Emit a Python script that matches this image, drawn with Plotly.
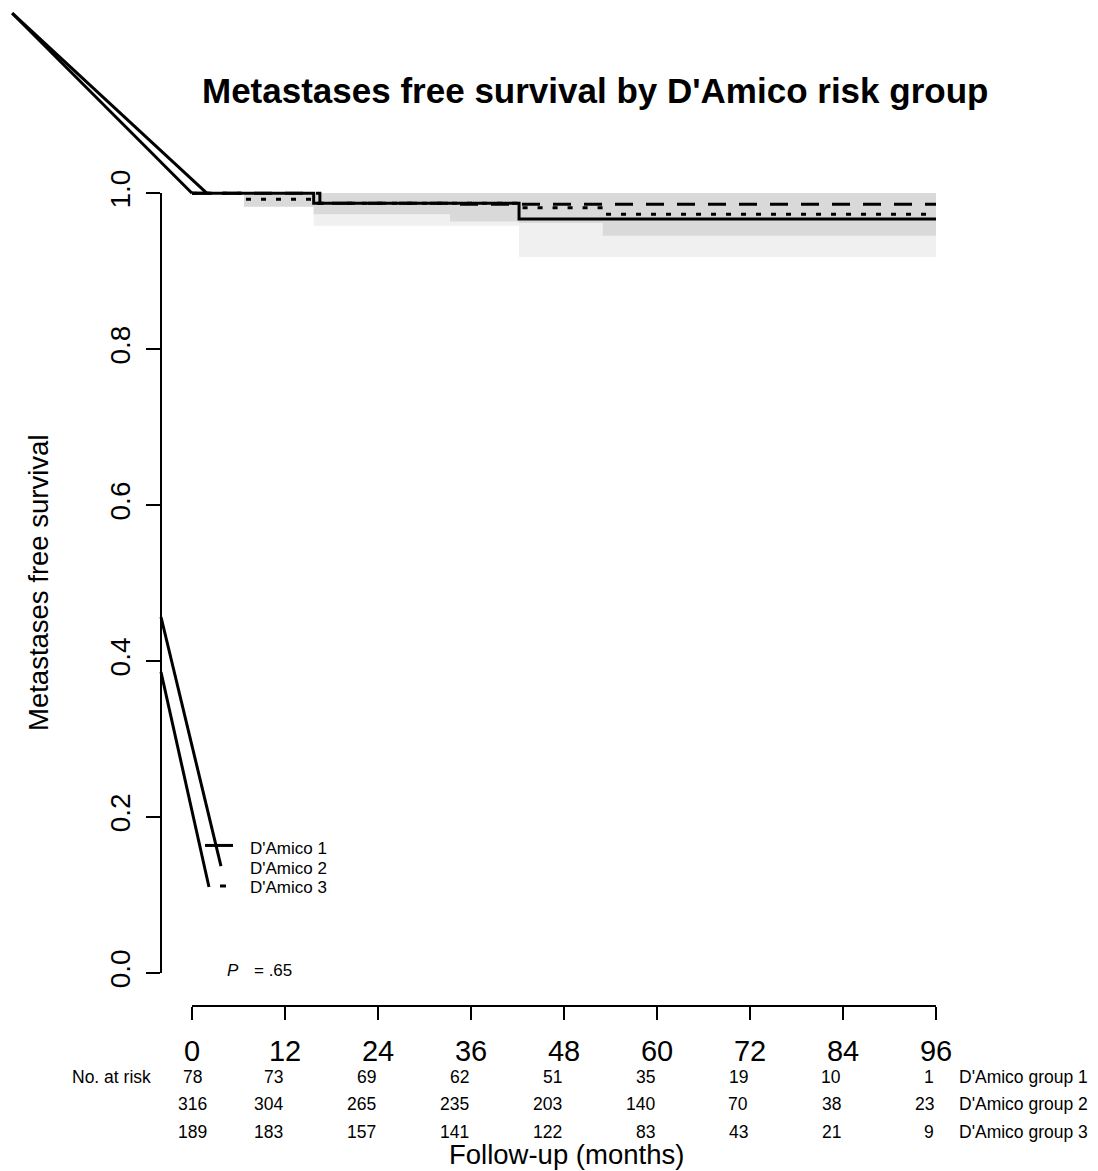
import plotly.graph_objects as go

# ---------------- data ----------------
month_ticks = [0, 12, 24, 36, 48, 60, 72, 84, 96]
surv_ticks = [0.0, 0.2, 0.4, 0.6, 0.8, 1.0]
surv_tick_text = ["0.0", "0.2", "0.4", "0.6", "0.8", "1.0"]
end_month = 96

# Kaplan-Meier step estimates (event times, survival after each time)
g1_times = [0, 15.7, 42.2]
g1_surv = [1.0, 0.9872, 0.9670]
g1_lower = [1.0, 0.9584, 0.9183]

g2_times = [0, 16.5, 33.3]
g2_surv = [1.0, 0.9872, 0.9859]
g2_lower = [1.0, 0.9750, 0.9639]

g3_times = [0, 6.7, 15.7, 42.2, 53.0]
g3_surv = [1.0, 0.9923, 0.9872, 0.9815, 0.9731]
g3_lower = [1.0, 0.9828, 0.9731, 0.9620, 0.9456]

# numbers at risk
risk_g1 = [78, 73, 69, 62, 51, 35, 19, 10, 1]
risk_g2 = [316, 304, 265, 235, 203, 140, 70, 38, 23]
risk_g3 = [189, 183, 157, 141, 122, 83, 43, 21, 9]
risk_group_names = ["D'Amico group 1", "D'Amico group 2", "D'Amico group 3"]
legend_names = ["D'Amico 1", "D'Amico 2", "D'Amico 3"]
p_text = "= .65"

# stray line segments in the original figure (months, survival)
stray_x = [[-23.2, 0.0], [-23.2, 1.94], [-4.0, 3.74], [-4.0, 2.19]]
stray_y = [[1.231, 1.0], [1.231, 1.0], [0.4566, 0.1372], [0.3860, 0.1103]]
legend_seg_x = [[1.68, 5.29], None, [3.61, 4.39]]
legend_seg_y = [0.1636, 0.1372, 0.1116]

# ---------------- layout constants ----------------
W, H = 1098, 1171
X0PX, X96PX = 192.0, 936.0
Y0PX, Y1PX = 973.0, 193.3
PPM = (X96PX - X0PX) / 96.0
PPU = (Y0PX - Y1PX) / 1.0
FONT = "Liberation Sans, Arial, Helvetica, sans-serif"


def fx(px):
    return px / W


def fy(py):
    return 1 - py / H


def month_at(px):
    return (px - X0PX) / PPM


def surv_at(py):
    return (Y0PX - py) / PPU


def step_xy(times, vals, end):
    t = list(times) + [end]
    xs, ys = [], []
    for i, v in enumerate(vals):
        xs += [t[i], t[i + 1]]
        ys += [v, v]
    return xs, ys


fig = go.Figure()

# dummy trace so the visible axes exist
fig.add_trace(go.Scatter(x=[0, 96], y=[0, 1], mode="markers",
                         marker=dict(opacity=0), hoverinfo="skip",
                         showlegend=False, xaxis="x", yaxis="y"))

# confidence bands
for times, lower, col in [(g1_times, g1_lower, "#f0f0f0"),
                          (g2_times, g2_lower, "#d9d9d9"),
                          (g3_times, g3_lower, "#d9d9d9")]:
    xu, yu = step_xy(times, [1.0] * len(times), end_month)
    xl, yl = step_xy(times, lower, end_month)
    fig.add_trace(go.Scatter(x=xu + xl[::-1], y=yu + yl[::-1], fill="toself",
                             fillcolor=col, line=dict(width=0), mode="lines",
                             hoverinfo="skip", showlegend=False,
                             xaxis="x2", yaxis="y2"))

# survival curves
for times, surv, dash in [(g1_times, g1_surv, "solid"),
                          (g2_times, g2_surv, "18px,13px"),
                          (g3_times, g3_surv, "5px,10px")]:
    fig.add_trace(go.Scatter(x=list(times) + [end_month],
                             y=list(surv) + [surv[-1]],
                             mode="lines", line=dict(color="black", width=3,
                                                     dash=dash, shape="hv"),
                             hoverinfo="skip", showlegend=False,
                             xaxis="x2", yaxis="y2"))

# stray segments
for sx, sy in zip(stray_x, stray_y):
    fig.add_trace(go.Scatter(x=sx, y=sy, mode="lines",
                             line=dict(color="black", width=3),
                             hoverinfo="skip", showlegend=False,
                             xaxis="x2", yaxis="y2"))
for sx, sy in zip(legend_seg_x, legend_seg_y):
    if sx is None:
        continue
    fig.add_trace(go.Scatter(x=sx, y=[sy, sy], mode="lines",
                             line=dict(color="black", width=3),
                             hoverinfo="skip", showlegend=False,
                             xaxis="x2", yaxis="y2"))

ann = []
# legend text
for name, py in zip(legend_names, [848, 868, 887]):
    ann.append(dict(x=month_at(248), y=surv_at(py), xref="x2", yref="y2",
                    text=name, showarrow=False, xanchor="left", yanchor="middle",
                    font=dict(size=17, family=FONT, color="black")))
# p-value
ann.append(dict(x=month_at(225), y=surv_at(970), xref="x2", yref="y2",
                text="<i>P</i>", showarrow=False, xanchor="left", yanchor="middle",
                font=dict(size=17, family=FONT, color="black")))
ann.append(dict(x=month_at(252), y=surv_at(970), xref="x2", yref="y2",
                text=p_text, showarrow=False, xanchor="left", yanchor="middle",
                font=dict(size=17, family=FONT, color="black")))

# risk table
row_py = [1077, 1104, 1132]
ann.append(dict(x=month_at(153), y=surv_at(row_py[0]), xref="x2", yref="y2",
                text="No. at risk", showarrow=False, xanchor="right",
                yanchor="middle", font=dict(size=17.5, family=FONT, color="black")))
for row, (vals, gname) in enumerate(zip([risk_g1, risk_g2, risk_g3], risk_group_names)):
    for t, v in zip(month_ticks, vals):
        ann.append(dict(x=t, y=surv_at(row_py[row]), xref="x2", yref="y2",
                        text=str(v), showarrow=False,
                        xanchor="center" if t == 0 else "right",
                        yanchor="middle",
                        font=dict(size=17.5, family=FONT, color="black")))
    ann.append(dict(x=month_at(957), y=surv_at(row_py[row]), xref="x2", yref="y2",
                    text=gname, showarrow=False, xanchor="left", yanchor="middle",
                    font=dict(size=17.5, family=FONT, color="black")))

# titles
ann.append(dict(x=fx(595), y=fy(91), xref="paper", yref="paper",
                text="<b>Metastases free survival by D'Amico risk group</b>",
                showarrow=False, xanchor="center", yanchor="middle",
                font=dict(size=35, family=FONT, color="black")))
ann.append(dict(x=fx(38), y=fy(583), xref="paper", yref="paper",
                text="Metastases free survival", textangle=-90,
                showarrow=False, xanchor="center", yanchor="middle",
                font=dict(size=27.5, family=FONT, color="black")))
ann.append(dict(x=fx(566), y=fy(1154), xref="paper", yref="paper",
                text="Follow-up (months)",
                showarrow=False, xanchor="center", yanchor="middle",
                font=dict(size=27.5, family=FONT, color="black")))

fig.update_layout(
    width=W, height=H, autosize=False,
    margin=dict(l=0, r=0, t=0, b=0, pad=0, autoexpand=False),
    paper_bgcolor="white", plot_bgcolor="rgba(0,0,0,0)",
    showlegend=False,
    xaxis=dict(domain=[fx(X0PX), fx(X96PX)], range=[0, 96], anchor="free",
               position=fy(1006), showline=True, linewidth=2, linecolor="black",
               ticks="outside", ticklen=13, tickwidth=2, tickcolor="black",
               tickmode="array", tickvals=month_ticks, ticklabelstandoff=6,
               tickfont=dict(size=29, family=FONT, color="black"),
               showgrid=False, zeroline=False, fixedrange=True),
    yaxis=dict(domain=[fy(Y0PX), fy(Y1PX)], range=[0, 1], anchor="free",
               position=fx(161), showline=True, linewidth=2, linecolor="black",
               ticks="outside", ticklen=14, tickwidth=2, tickcolor="black",
               tickmode="array", tickvals=surv_ticks, ticktext=surv_tick_text,
               tickangle=-90, ticklabelstandoff=5,
               tickfont=dict(size=28, family=FONT, color="black"),
               showgrid=False, zeroline=False, fixedrange=True),
    xaxis2=dict(domain=[0, 1], range=[month_at(0), month_at(W)], anchor="y2",
                visible=False, fixedrange=True),
    yaxis2=dict(domain=[0, 1], range=[surv_at(H), surv_at(0)], anchor="x2",
                visible=False, fixedrange=True),
    annotations=ann,
)

fig.write_html("out.html",
               config={"displayModeBar": False, "staticPlot": True},
               post_script="document.body.style.margin='0px';"
                           "document.body.style.padding='0px';")
